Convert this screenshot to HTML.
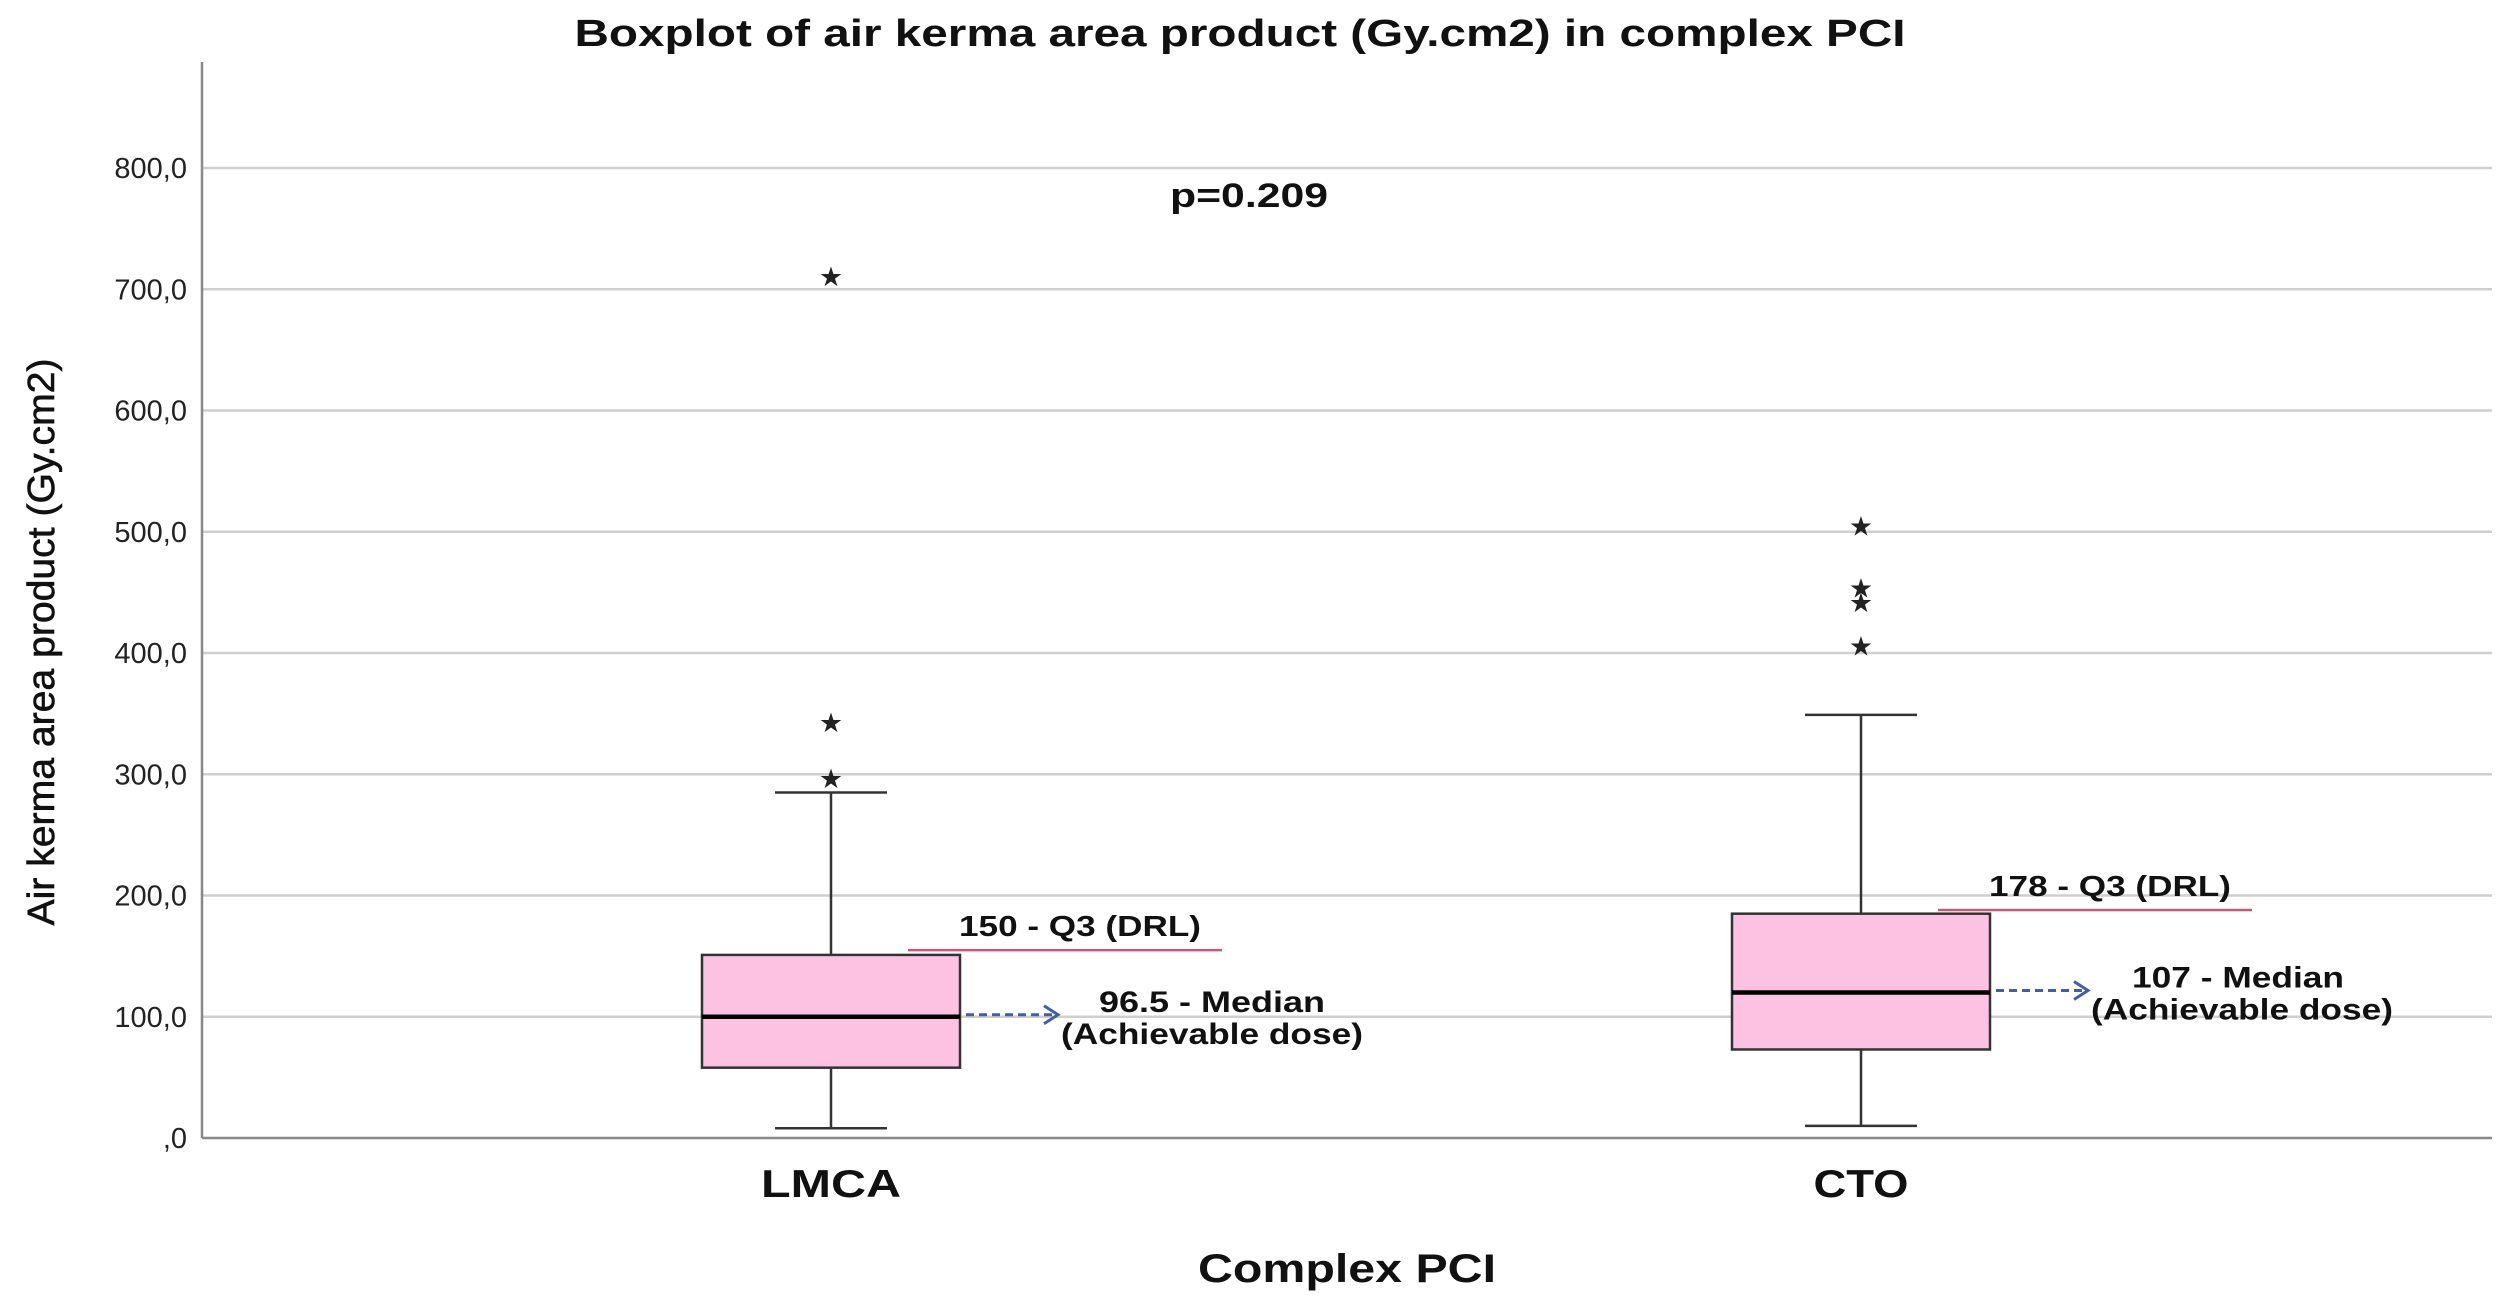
<!DOCTYPE html>
<html><head><meta charset="utf-8"><style>
html,body{margin:0;padding:0;background:#fff;}
svg{display:block;font-family:"Liberation Sans",Arial,sans-serif;}
</style></head><body>
<svg id="chart" width="2508" height="1307" viewBox="0 0 2508 1307" xmlns="http://www.w3.org/2000/svg">
<text x="1240" y="46" text-anchor="middle" font-size="38" font-weight="bold" fill="#111" textLength="1331" lengthAdjust="spacingAndGlyphs">Boxplot of air kerma area product (Gy.cm2) in complex PCI</text>
<g id="grid"></g>
<g id="yticks"></g>
<line x1="202" y1="62" x2="202" y2="1138" stroke="#888" stroke-width="2.5"/>
<line x1="202" y1="1138" x2="2492" y2="1138" stroke="#888" stroke-width="2.5"/>
<text transform="translate(54,642) rotate(-90)" text-anchor="middle" font-size="38" fill="#111" stroke="#111" stroke-width="0.6" textLength="567" lengthAdjust="spacingAndGlyphs">Air kerma area product (Gy.cm2)</text>
<text x="1249" y="207" text-anchor="middle" font-size="34" font-weight="bold" fill="#111" textLength="158" lengthAdjust="spacingAndGlyphs">p=0.209</text>
<g id="boxes"></g>
<g id="annot"></g>
<text x="1347" y="1282" text-anchor="middle" font-size="40" font-weight="bold" fill="#111" textLength="298" lengthAdjust="spacingAndGlyphs">Complex PCI</text>
</svg>
<script>
const categories = ["LMCA", "CTO"];
const q1 = [58, 73];
const medians = [100, 120];
const q3 = [151, 185];
const whiskerLow = [8, 10];
const whiskerHigh = [285, 349];
const outliers = [[711, 343, 297], [505, 454, 442, 406]];
const yTicks = [0, 100, 200, 300, 400, 500, 600, 700, 800];
const yTickLabels = [",0", "100,0", "200,0", "300,0", "400,0", "500,0", "600,0", "700,0", "800,0"];
const drlValues = [155, 188];
const drlLabels = ["150 - Q3 (DRL)", "178 - Q3 (DRL)"];
const medianLabels = ["96.5 - Median", "107 - Median"];

const NS = "http://www.w3.org/2000/svg";
const plotTop = 168, plotBottom = 1138, yMax = 800;
function yScale(v){ return plotBottom - v * (plotBottom - plotTop) / yMax; }
const xLeft = 202, xRight = 2492;
function xScale(i){ return 831 + i * 1030; }
function mk(tag, attrs, parent){ const e = document.createElementNS(NS, tag); for (const k in attrs) e.setAttribute(k, attrs[k]); parent.appendChild(e); return e; }

const grid = document.getElementById('grid'), yt = document.getElementById('yticks');
yTicks.forEach((t, i) => {
  if (t > 0) {
    const l = mk('line', {x1: xLeft, x2: xRight, y1: yScale(t), y2: yScale(t), stroke: '#cfcfcf', 'stroke-width': 2.5}, grid);
    
    
  }
  const tx = mk('text', {x: 187, y: yScale(t) + 10, 'text-anchor': 'end', 'font-size': 29, fill: '#222'}, yt);
  tx.textContent = yTickLabels[i];
  
  
});

const boxes = document.getElementById('boxes');
const boxW = 258, capW = 112;
categories.forEach((c, i) => {
  const cx = xScale(i);
  const g = mk('g', {}, boxes);
  
  
  mk('line', {x1: cx, x2: cx, y1: yScale(whiskerHigh[i]), y2: yScale(q3[i]), stroke: '#333', 'stroke-width': 2.5}, g);
  mk('line', {x1: cx, x2: cx, y1: yScale(q1[i]), y2: yScale(whiskerLow[i]), stroke: '#333', 'stroke-width': 2.5}, g);
  mk('line', {x1: cx - capW/2, x2: cx + capW/2, y1: yScale(whiskerHigh[i]), y2: yScale(whiskerHigh[i]), stroke: '#333', 'stroke-width': 2.5}, g);
  mk('line', {x1: cx - capW/2, x2: cx + capW/2, y1: yScale(whiskerLow[i]), y2: yScale(whiskerLow[i]), stroke: '#333', 'stroke-width': 2.5}, g);
  mk('rect', {x: cx - boxW/2, y: yScale(q3[i]), width: boxW, height: yScale(q1[i]) - yScale(q3[i]), fill: '#fdc1e1', stroke: '#333', 'stroke-width': 2.5}, g);
  mk('line', {x1: cx - boxW/2, x2: cx + boxW/2, y1: yScale(medians[i]), y2: yScale(medians[i]), stroke: '#000', 'stroke-width': 4.5}, g);
  outliers[i].forEach(v => {
    const s = mk('text', {x: cx, y: yScale(v) + 10, 'text-anchor': 'middle', 'font-size': 27, fill: '#222'}, g);
    s.textContent = '★';
    
    
  });
  const lab = mk('text', {x: cx, y: 1197, 'text-anchor': 'middle', 'font-size': 39, 'font-weight': 'bold', fill: '#111', textLength: i ? 95 : 140, lengthAdjust: 'spacingAndGlyphs'}, boxes);
  lab.textContent = c;
  
  
});

const an = document.getElementById('annot');
categories.forEach((c, i) => {
  const cx = xScale(i);
  const right = cx + boxW/2;
  const dy = yScale(drlValues[i]);
  const l = mk('line', {x1: right - 52, x2: right + 262, y1: dy, y2: dy, stroke: '#c25b7a', 'stroke-width': 2.5}, an);
  
  
  const t = mk('text', {x: right + 120, y: dy - 14, 'text-anchor': 'middle', 'font-size': 29, 'font-weight': 'bold', fill: '#111', textLength: 242, lengthAdjust: 'spacingAndGlyphs'}, an);
  t.textContent = drlLabels[i];
  
  
  const my = yScale(medians[i]) - 2;
  const a = mk('line', {x1: right + 6, x2: right + 96, y1: my, y2: my, stroke: '#3f5fa8', 'stroke-width': 3, 'stroke-dasharray': '8,5'}, an);
  
  
  mk('polyline', {points: (right+84)+','+(my-9)+' '+(right+98)+','+my+' '+(right+84)+','+(my+9), fill: 'none', stroke: '#3f5fa8', 'stroke-width': 3}, an);
  const m1 = mk('text', {x: right + 252 - (i ? 4 : 0), y: my - 3, 'text-anchor': 'middle', 'font-size': 30, 'font-weight': 'bold', fill: '#111', textLength: i ? 212 : 226, lengthAdjust: 'spacingAndGlyphs'}, an);
  m1.textContent = medianLabels[i];
  
  
  const m2 = mk('text', {x: right + 252, y: my + 29, 'text-anchor': 'middle', 'font-size': 30, 'font-weight': 'bold', fill: '#111', textLength: 302, lengthAdjust: 'spacingAndGlyphs'}, an);
  m2.textContent = '(Achievable dose)';
  
  
});
</script>
</body></html>
